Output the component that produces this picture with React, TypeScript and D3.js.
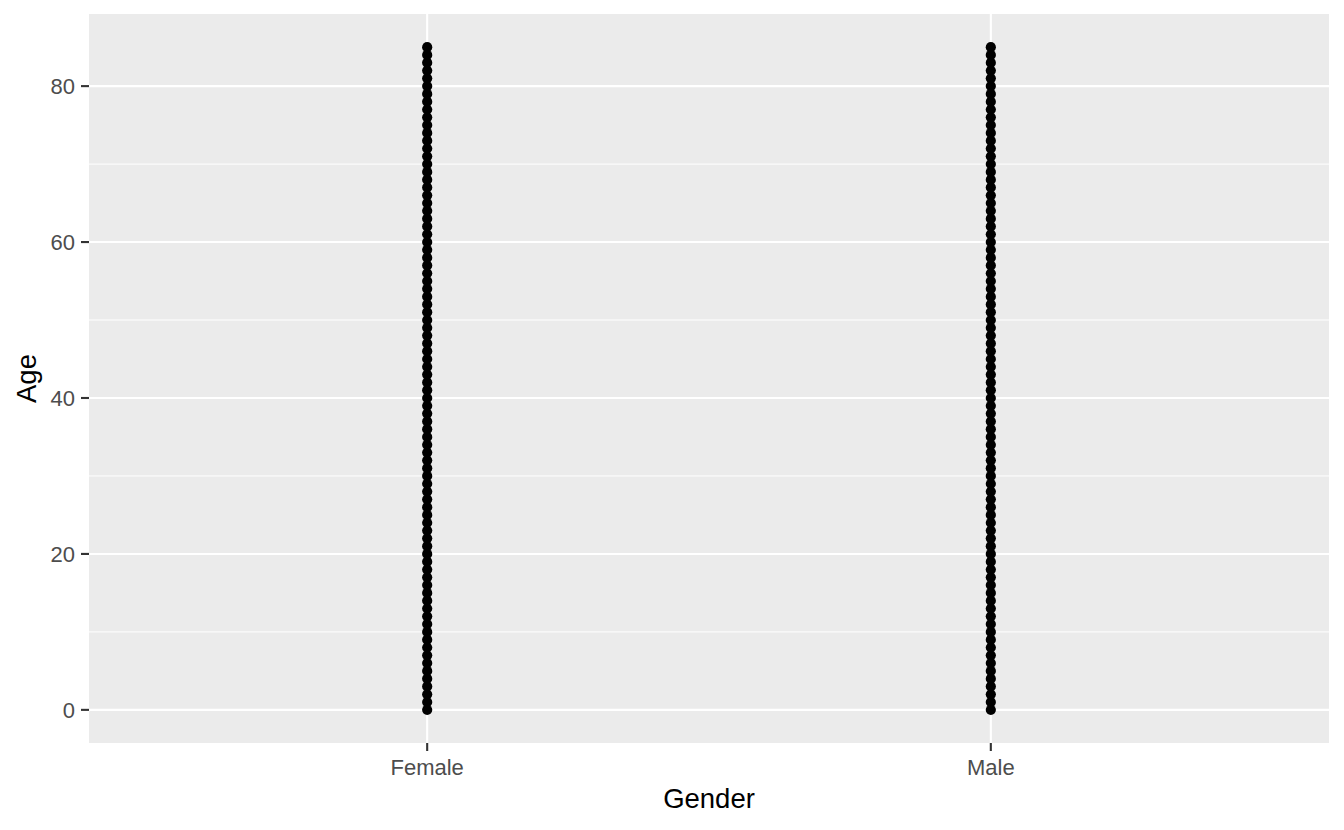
import React from "react";
import * as d3 from "d3";

const categories = ["Female", "Male"];
const femaleAges = [0,1,2,3,4,5,6,7,8,9,10,11,12,13,14,15,16,17,18,19,20,21,22,23,24,25,26,27,28,29,30,31,32,33,34,35,36,37,38,39,40,41,42,43,44,45,46,47,48,49,50,51,52,53,54,55,56,57,58,59,60,61,62,63,64,65,66,67,68,69,70,71,72,73,74,75,76,77,78,79,80,81,82,83,84,85];
const maleAges = [0,1,2,3,4,5,6,7,8,9,10,11,12,13,14,15,16,17,18,19,20,21,22,23,24,25,26,27,28,29,30,31,32,33,34,35,36,37,38,39,40,41,42,43,44,45,46,47,48,49,50,51,52,53,54,55,56,57,58,59,60,61,62,63,64,65,66,67,68,69,70,71,72,73,74,75,76,77,78,79,80,81,82,83,84,85];
const yTicks = [0, 20, 40, 60, 80];
const yMinor = [10, 30, 50, 70];

const W = 1344, H = 830;
const L = 89, R = 1329, T = 14, B = 743;
const FONT = "'Liberation Sans', Arial, sans-serif";

export default function App() {
  const y = d3.scaleLinear().domain([-4.25, 89.25]).range([B, T]);
  const x = d3.scaleLinear().domain([0.4, 2.6]).range([L, R]);
  const cx = (c: string) => x(categories.indexOf(c) + 1);
  const points = [
    ...femaleAges.map((a) => ({ g: "Female", a })),
    ...maleAges.map((a) => ({ g: "Male", a })),
  ];
  return (
    <svg width={W} height={H} style={{ position: "absolute", left: 0, top: 0, background: "#fff" }}>
      <rect x={L} y={T} width={R - L} height={B - T} fill="#EBEBEB" />
      {yMinor.map((v) => (
        <line key={"m" + v} x1={L} x2={R} y1={y(v)} y2={y(v)} stroke="#fff" strokeWidth={1} />
      ))}
      {yTicks.map((v) => (
        <line key={"M" + v} x1={L} x2={R} y1={y(v)} y2={y(v)} stroke="#fff" strokeWidth={2.1} />
      ))}
      {categories.map((c) => (
        <line key={"v" + c} x1={cx(c)} x2={cx(c)} y1={T} y2={B} stroke="#fff" strokeWidth={2.1} />
      ))}
      {points.map((p, i) => (
        <circle key={i} cx={cx(p.g)} cy={y(p.a)} r={5.1} fill="#000" />
      ))}
      {yTicks.map((v) => (
        <g key={"t" + v}>
          <line x1={L - 8} x2={L} y1={y(v)} y2={y(v)} stroke="#333" strokeWidth={2.1} />
          <text x={L - 14} y={y(v)} dy="0.36em" textAnchor="end" fontFamily={FONT} fontSize={22} fill="#4D4D4D">
            {v}
          </text>
        </g>
      ))}
      {categories.map((c) => (
        <g key={"xt" + c}>
          <line x1={cx(c)} x2={cx(c)} y1={B} y2={B + 8} stroke="#333" strokeWidth={2.1} />
          <text x={cx(c)} y={775} textAnchor="middle" fontFamily={FONT} fontSize={22} fill="#4D4D4D">
            {c}
          </text>
        </g>
      ))}
      <text x={(L + R) / 2} y={808} textAnchor="middle" fontFamily={FONT} fontSize={27.5} fill="#000">
        Gender
      </text>
      <text transform={`translate(36,${(T + B) / 2}) rotate(-90)`} textAnchor="middle" fontFamily={FONT} fontSize={27.5} fill="#000">
        Age
      </text>
    </svg>
  );
}
